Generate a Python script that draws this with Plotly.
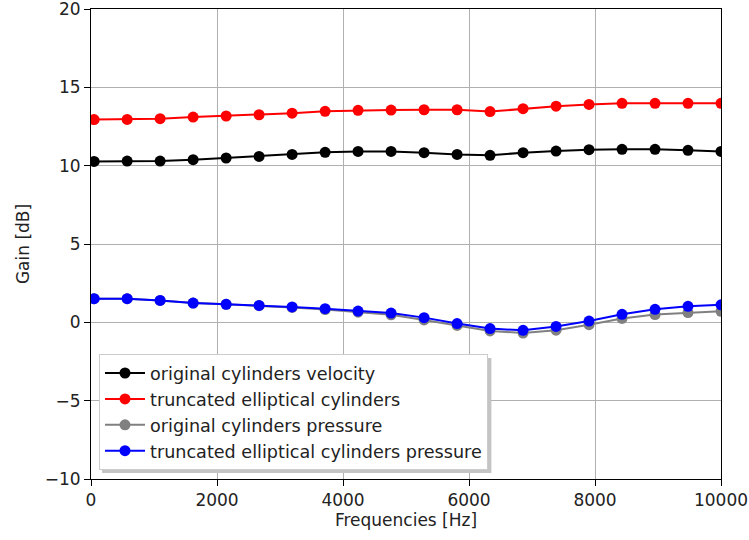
import plotly.graph_objects as go

freqs = [50, 574, 1097, 1621, 2145, 2668, 3192, 3716, 4239, 4763,
         5287, 5811, 6334, 6858, 7382, 7905, 8429, 8953, 9476, 10000]

orig_velocity = [10.27, 10.29, 10.29, 10.38, 10.49, 10.59, 10.72, 10.85, 10.91, 10.91,
                 10.83, 10.72, 10.66, 10.83, 10.93, 11.02, 11.04, 11.04, 10.98, 10.91]
trunc_elliptical = [12.94, 12.95, 13.0, 13.1, 13.17, 13.25, 13.35, 13.47, 13.53, 13.55,
                    13.57, 13.57, 13.45, 13.64, 13.8, 13.91, 13.98, 13.98, 13.98, 13.98]
orig_pressure = [1.51, 1.51, 1.40, 1.23, 1.15, 1.06, 0.95, 0.82, 0.65, 0.48,
                 0.15, -0.2, -0.55, -0.68, -0.5, -0.15, 0.25, 0.5, 0.62, 0.7]
trunc_pressure = [1.51, 1.51, 1.40, 1.23, 1.15, 1.08, 0.98, 0.87, 0.72, 0.59,
                  0.30, -0.08, -0.40, -0.51, -0.26, 0.08, 0.51, 0.83, 1.02, 1.12]

x_tickvals = [0, 2000, 4000, 6000, 8000, 10000]
x_ticktext = ["0", "2000", "4000", "6000", "8000", "10000"]
y_tickvals = [-10, -5, 0, 5, 10, 15, 20]
y_ticktext = ["\u221210", "\u22125", "0", "5", "10", "15", "20"]

series = [
    ("original cylinders velocity", orig_velocity, "black"),
    ("truncated elliptical cylinders", trunc_elliptical, "red"),
    ("original cylinders pressure", orig_pressure, "gray"),
    ("truncated elliptical cylinders pressure", trunc_pressure, "blue"),
]

fig = go.Figure()
for name, vals, col in series:
    fig.add_trace(go.Scatter(
        x=freqs, y=vals, name=name, mode="lines+markers",
        line=dict(color=col, width=2),
        marker=dict(color=col, size=11),
        legendgroup=name,
    ))

FONT = "DejaVu Sans"
axis_common = dict(
    showgrid=True, gridcolor="#b0b0b0", gridwidth=1,
    showline=True, linecolor="black", linewidth=1, mirror=True,
    ticks="outside", ticklen=6, tickcolor="black",
    zeroline=False, automargin=False, ticklabeloverflow="allow",
    tickfont=dict(family=FONT, size=17, color="#222222"),
)

fig.update_layout(
    width=749, height=540,
    margin=dict(l=91, r=28, t=9, b=61),
    paper_bgcolor="white", plot_bgcolor="white",
    font=dict(family=FONT, size=17, color="#222222"),
    xaxis=dict(range=[0, 10000], tickvals=x_tickvals, ticktext=x_ticktext,
               title=dict(text="Frequencies [Hz]", font=dict(size=17), standoff=4),
               **axis_common),
    yaxis=dict(range=[-10, 20], tickvals=y_tickvals, ticktext=y_ticktext,
               title=dict(text="Gain [dB]", font=dict(size=17), standoff=10),
               **axis_common),
    legend=dict(
        x=0.0127, y=0.019, xanchor="left", yanchor="bottom",
        bgcolor="white", bordercolor="#cccccc", borderwidth=1,
        font=dict(family=FONT, size=17.6, color="#222222"),
        tracegroupgap=0, itemwidth=40,
    ),
    shapes=[dict(type="rect", xref="paper", yref="paper",
                 x0=0.0175, x1=0.6355, y0=0.0128, y1=0.2575,
                 fillcolor="#c4c4c4", line=dict(width=0), layer="above")],
)

fig.write_html("out.html", config={"displayModeBar": False},
               post_script="document.body.style.margin='0px';")
